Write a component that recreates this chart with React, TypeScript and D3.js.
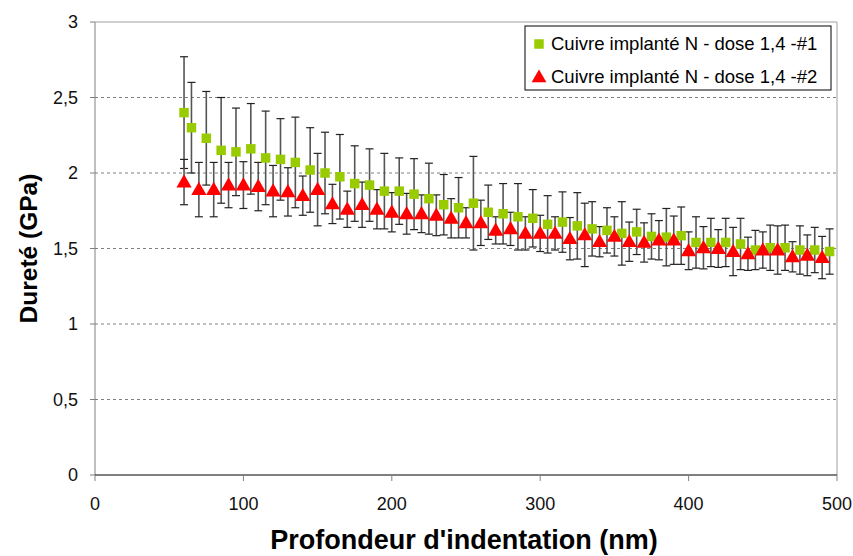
import { useEffect, useRef } from "react"
import * as d3 from "d3"

// Series #1 (green squares)
const depth1 = [60, 65, 75, 85, 95, 105, 115, 125, 135, 145, 155, 165, 175, 185, 195, 205, 215, 225, 235, 245, 255, 265, 275, 285, 295, 305, 315, 325, 335, 345, 355, 365, 375, 385, 395, 405, 415, 425, 435, 445, 455, 465, 475, 485, 495]
const hard1 = [2.4, 2.3, 2.23, 2.15, 2.14, 2.16, 2.1, 2.09, 2.07, 2.02, 2.0, 1.975, 1.93, 1.92, 1.88, 1.88, 1.86, 1.83, 1.79, 1.77, 1.8, 1.74, 1.73, 1.71, 1.7, 1.66, 1.675, 1.65, 1.63, 1.62, 1.6, 1.61, 1.58, 1.575, 1.585, 1.54, 1.54, 1.54, 1.53, 1.49, 1.505, 1.505, 1.49, 1.49, 1.48]
const err1 = [0.37, 0.3, 0.31, 0.35, 0.29, 0.3, 0.31, 0.27, 0.3, 0.28, 0.27, 0.28, 0.25, 0.24, 0.25, 0.22, 0.235, 0.235, 0.2, 0.2, 0.31, 0.18, 0.2, 0.22, 0.19, 0.19, 0.2, 0.22, 0.18, 0.15, 0.21, 0.15, 0.15, 0.19, 0.19, 0.17, 0.16, 0.16, 0.17, 0.13, 0.15, 0.15, 0.16, 0.15, 0.15]

// Series #2 (red triangles)
const depth2 = [60, 70, 80, 90, 100, 110, 120, 130, 140, 150, 160, 170, 180, 190, 200, 210, 220, 230, 240, 250, 260, 270, 280, 290, 300, 310, 320, 330, 340, 350, 360, 370, 380, 390, 400, 410, 420, 430, 440, 450, 460, 470, 480, 490]
const hard2 = [1.94, 1.89, 1.89, 1.92, 1.92, 1.91, 1.88, 1.875, 1.85, 1.89, 1.795, 1.76, 1.79, 1.76, 1.74, 1.73, 1.73, 1.72, 1.7, 1.67, 1.67, 1.62, 1.63, 1.6, 1.6, 1.6, 1.565, 1.59, 1.545, 1.58, 1.545, 1.54, 1.555, 1.555, 1.485, 1.505, 1.5, 1.48, 1.465, 1.49, 1.49, 1.445, 1.455, 1.44]
const err2 = [0.15, 0.18, 0.18, 0.15, 0.155, 0.16, 0.17, 0.16, 0.13, 0.24, 0.13, 0.12, 0.15, 0.13, 0.13, 0.135, 0.125, 0.135, 0.13, 0.1, 0.15, 0.09, 0.11, 0.11, 0.12, 0.11, 0.14, 0.21, 0.1, 0.13, 0.13, 0.13, 0.13, 0.16, 0.125, 0.14, 0.125, 0.16, 0.11, 0.12, 0.16, 0.1, 0.135, 0.14]

const seriesNames = ["Cuivre implanté N - dose 1,4 -#1", "Cuivre implanté N - dose 1,4 -#2"]
const xTicks = [0, 100, 200, 300, 400, 500]
const yTicks = [0, 0.5, 1, 1.5, 2, 2.5, 3]

interface Pt {
  x: number
  y: number
  e: number
}

const pts1: Pt[] = depth1.map((x, i) => ({ x, y: hard1[i], e: err1[i] }))
const pts2: Pt[] = depth2.map((x, i) => ({ x, y: hard2[i], e: err2[i] }))

const W = 853
const H = 556
const margin = { top: 22, right: 16, bottom: 81, left: 95 }
const FONT = "Liberation Sans, Arial, sans-serif"
const GREEN = "#99cc00"
const RED = "#ff0000"

export default function App() {
  const svgRef = useRef<SVGSVGElement>(null)

  useEffect(() => {
    if (!svgRef.current) return
    const svg = d3.select(svgRef.current)
    svg.selectAll("*").remove()

    const width = W - margin.left - margin.right
    const height = H - margin.top - margin.bottom
    const g = svg.append("g").attr("transform", `translate(${margin.left},${margin.top})`)

    const x = d3.scaleLinear().domain([0, 500]).range([0, width])
    const y = d3.scaleLinear().domain([0, 3]).range([height, 0])
    const fmt = (v: number) => String(v).replace(".", ",")

    // dashed grid lines
    g.selectAll("line.grid")
      .data(yTicks.filter((t) => t > 0 && t < 3))
      .enter()
      .append("line")
      .attr("x1", 0)
      .attr("x2", width)
      .attr("y1", (d) => y(d))
      .attr("y2", (d) => y(d))
      .attr("stroke", "#808080")
      .attr("stroke-dasharray", "3,3")

    // plot area border (top, right)
    g.append("path").attr("d", `M0,0H${width}V${height}`).attr("fill", "none").attr("stroke", "#a0a0a0")

    // y axis
    g.append("line").attr("x1", 0).attr("x2", 0).attr("y1", 0).attr("y2", height).attr("stroke", "#808080")
    g.selectAll("line.ytick")
      .data(yTicks)
      .enter()
      .append("line")
      .attr("x1", -5)
      .attr("x2", 0)
      .attr("y1", (d) => y(d))
      .attr("y2", (d) => y(d))
      .attr("stroke", "#808080")
    g.selectAll("text.ylab")
      .data(yTicks)
      .enter()
      .append("text")
      .attr("x", -17)
      .attr("y", (d) => y(d))
      .attr("dy", "0.35em")
      .attr("text-anchor", "end")
      .attr("fill", "#111")
      .style("font-family", FONT)
      .style("font-size", "18px")
      .text((d) => fmt(d))

    // x axis
    g.append("line").attr("x1", 0).attr("x2", width).attr("y1", height).attr("y2", height).attr("stroke", "#000")
    g.selectAll("line.xtick")
      .data(xTicks)
      .enter()
      .append("line")
      .attr("x1", (d) => x(d))
      .attr("x2", (d) => x(d))
      .attr("y1", height)
      .attr("y2", height + 6)
      .attr("stroke", "#808080")
    g.selectAll("text.xlab")
      .data(xTicks)
      .enter()
      .append("text")
      .attr("x", (d) => x(d))
      .attr("y", height + 35)
      .attr("text-anchor", "middle")
      .attr("fill", "#111")
      .style("font-family", FONT)
      .style("font-size", "18px")
      .text((d) => String(d))

    // error bars
    const allPts = [...pts1, ...pts2]
    const bars = g.selectAll("g.err").data(allPts).enter().append("g").attr("stroke", "#222").attr("stroke-width", 1.2)
    bars
      .append("line")
      .attr("x1", (d) => x(d.x))
      .attr("x2", (d) => x(d.x))
      .attr("y1", (d) => y(d.y + d.e))
      .attr("y2", (d) => y(d.y - d.e))
      .attr("stroke", "#555")
      .attr("stroke-width", 1.6)
    bars
      .append("line")
      .attr("x1", (d) => x(d.x) - 4)
      .attr("x2", (d) => x(d.x) + 4)
      .attr("y1", (d) => y(d.y + d.e))
      .attr("y2", (d) => y(d.y + d.e))
    bars
      .append("line")
      .attr("x1", (d) => x(d.x) - 4)
      .attr("x2", (d) => x(d.x) + 4)
      .attr("y1", (d) => y(d.y - d.e))
      .attr("y2", (d) => y(d.y - d.e))

    // markers
    const sq = d3.symbol().type(d3.symbolSquare).size(90)
    const tri = d3.symbol().type(d3.symbolTriangle).size(100)
    g.selectAll("path.s1")
      .data(pts1)
      .enter()
      .append("path")
      .attr("d", sq)
      .attr("transform", (d) => `translate(${x(d.x)},${y(d.y)})`)
      .attr("fill", GREEN)
    g.selectAll("path.s2")
      .data(pts2)
      .enter()
      .append("path")
      .attr("d", tri)
      .attr("transform", (d) => `translate(${x(d.x)},${y(d.y) + 1})`)
      .attr("fill", RED)

    // legend
    const lg = svg.append("g").attr("transform", "translate(525,26)")
    lg.append("rect").attr("width", 306).attr("height", 64).attr("fill", "#fff").attr("stroke", "#000")
    const rows = [
      { name: seriesNames[0], sym: d3.symbol().type(d3.symbolSquare).size(90), color: GREEN },
      { name: seriesNames[1], sym: d3.symbol().type(d3.symbolTriangle).size(95), color: RED },
    ]
    rows.forEach((r, i) => {
      const cy = 18 + i * 33
      lg.append("path").attr("d", r.sym).attr("transform", `translate(14,${cy + i})`).attr("fill", r.color)
      lg.append("text")
        .attr("x", 26)
        .attr("y", cy)
        .attr("dy", "0.35em")
        .attr("fill", "#000")
        .style("font-family", FONT)
        .style("font-size", "18.5px")
        .text(r.name)
    })

    // axis titles
    svg
      .append("text")
      .attr("transform", `translate(28,${margin.top + height / 2}) rotate(-90)`)
      .attr("text-anchor", "middle")
      .attr("dy", "0.35em")
      .style("font-family", FONT)
      .style("font-weight", "bold")
      .style("font-size", "24.5px")
      .text("Dureté (GPa)")
    svg
      .append("text")
      .attr("x", 464)
      .attr("y", 549)
      .attr("text-anchor", "middle")
      .style("font-family", FONT)
      .style("font-weight", "bold")
      .style("font-size", "27px")
      .text("Profondeur d'indentation (nm)")
  }, [])

  return (
    <svg
      ref={svgRef}
      width={W}
      height={H}
      style={{ position: "absolute", left: 0, top: 0, background: "#fff" }}
    />
  )
}
